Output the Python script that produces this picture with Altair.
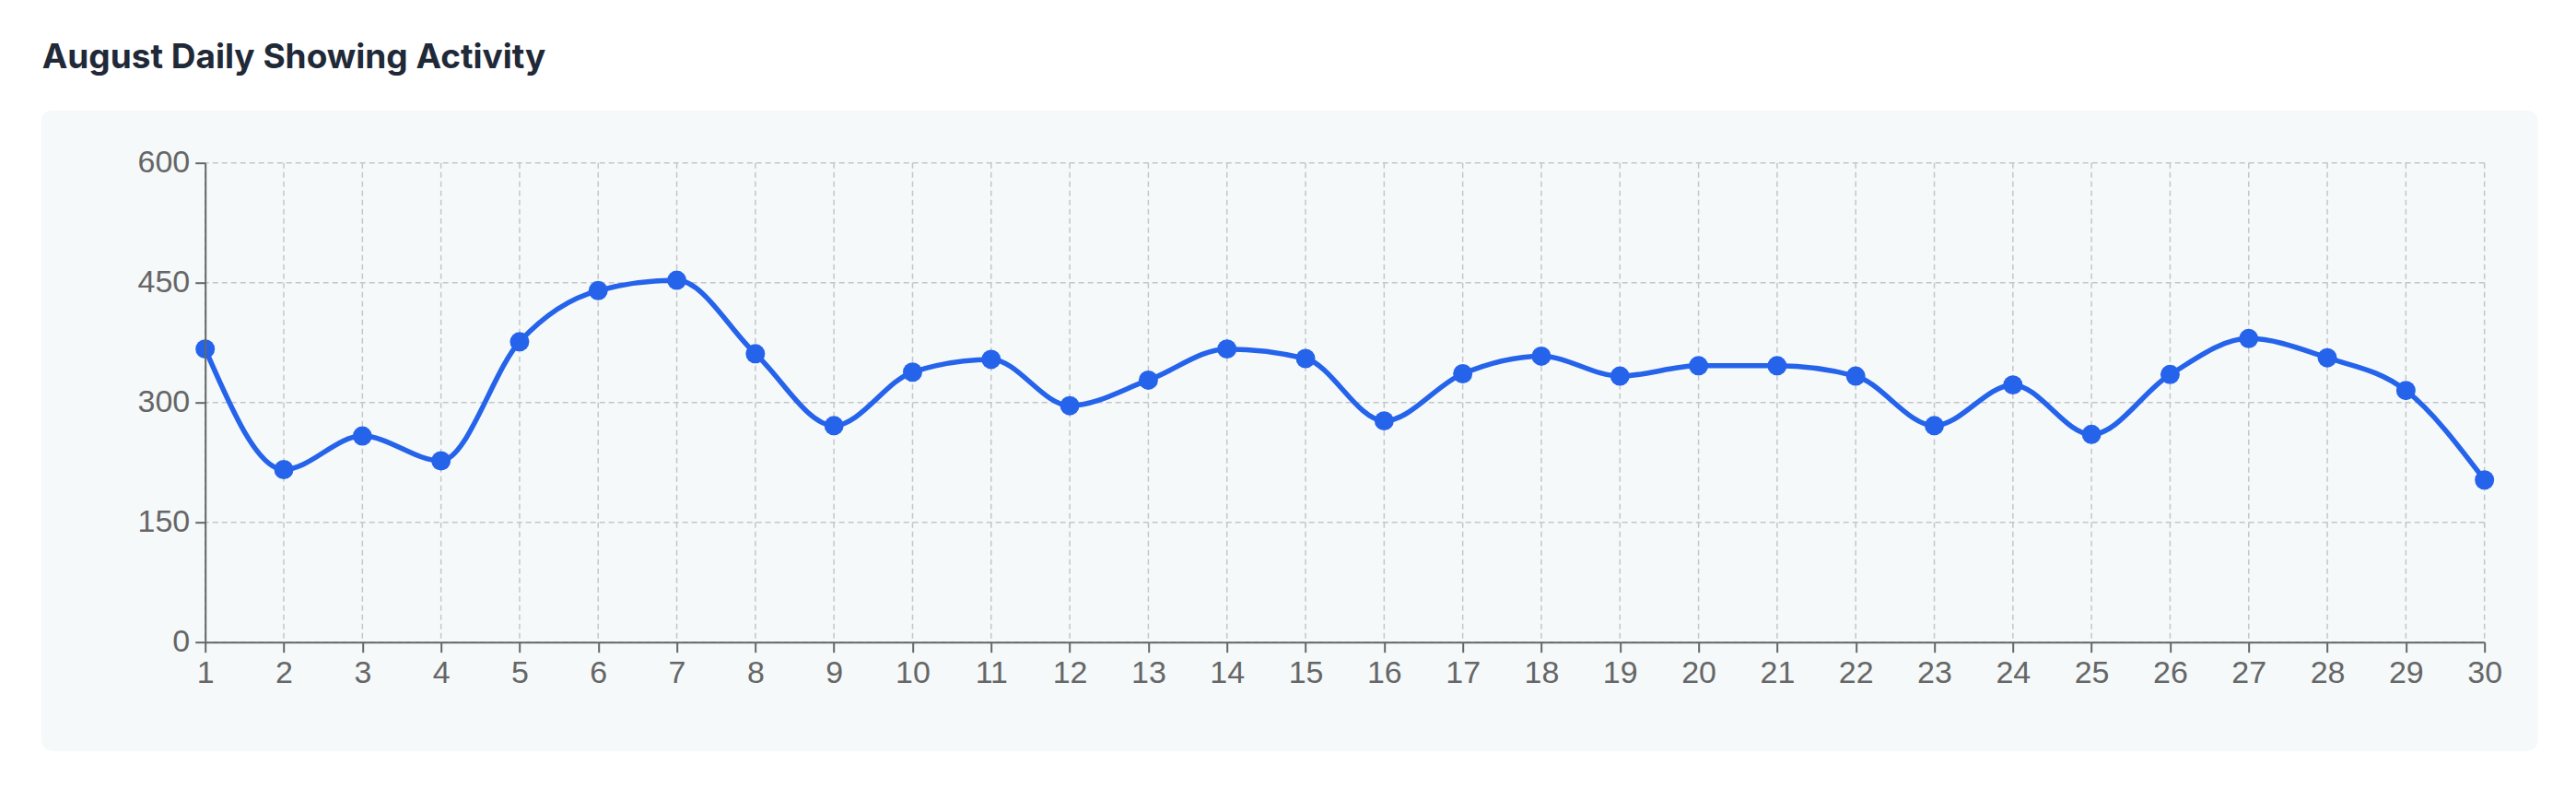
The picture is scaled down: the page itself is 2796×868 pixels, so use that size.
import altair as alt
import pandas as pd

# ---- data ----
days = list(range(1, 31))
showings = [367, 216, 258, 227, 376, 440, 453, 361, 271, 338,
            354, 296, 328, 367, 355, 277, 336, 358, 333, 346,
            346, 333, 271, 322, 260, 335, 380, 356, 315, 203]
y_ticks = [0, 150, 300, 450, 600]
title_text = "August Daily Showing Activity"

df = pd.DataFrame({"day": days, "showings": showings})
grid_y = pd.DataFrame({"showings": y_ticks})
grid_x = pd.DataFrame({"day": days})

W = 2474
H = 520

LINE_COLOR = "#2563eb"
GRID_COLOR = "#c6c6c6"
AXIS_COLOR = "#666666"

axis_style = dict(
    title=None, grid=False, zindex=1, labelFlush=False,
    domainColor=AXIS_COLOR, domainWidth=2,
    tickColor=AXIS_COLOR, tickWidth=2, tickSize=11,
    labelColor=AXIS_COLOR, labelFont="Liberation Sans", labelFontSize=34,
    labelPadding=6,
)

x_scale = alt.Scale(domain=[1, 30], nice=False, zero=False)
y_scale = alt.Scale(domain=[0, 600], nice=False)
x_axis = alt.Axis(values=days, format="d", **axis_style)
y_axis = alt.Axis(values=y_ticks, **axis_style)

X = alt.X("day:Q", scale=x_scale, axis=x_axis)
Y = alt.Y("showings:Q", scale=y_scale, axis=y_axis)

panel = alt.Chart(alt.Data(values=[{"a": 1}])).mark_rect(
    color="#f5f9fa", cornerRadius=12
).encode(
    x=alt.value(-178), x2=alt.value(2532),
    y=alt.value(-57), y2=alt.value(638)
)

hgrid = alt.Chart(grid_y).mark_rule(
    color=GRID_COLOR, strokeWidth=1.5, strokeDash=[6, 4]
).encode(y=Y)

vgrid = alt.Chart(grid_x).mark_rule(
    color=GRID_COLOR, strokeWidth=1.5, strokeDash=[6, 4]
).encode(x=X)

base = alt.Chart(df).encode(x=X, y=Y)

line = base.mark_line(color=LINE_COLOR, strokeWidth=5.5, interpolate="monotone")
pts = base.mark_circle(color=LINE_COLOR, size=440, opacity=1)

chart = alt.layer(panel, hgrid, vgrid, line, pts).properties(
    width=W, height=H,
    title=alt.TitleParams(
        text=title_text, anchor="start", frame="group",
        font="Inter", fontSize=37, fontWeight=700, color="#1f2937",
        dx=-177, offset=38
    ),
    autosize=alt.AutoSizeParams(type="none"),
    padding={"left": 214.7, "top": 168.7, "right": 60, "bottom": 120},
    background="white",
).configure_view(
    stroke=None
)

chart.save("out.html", embed_options={"renderer": "svg", "actions": False})
